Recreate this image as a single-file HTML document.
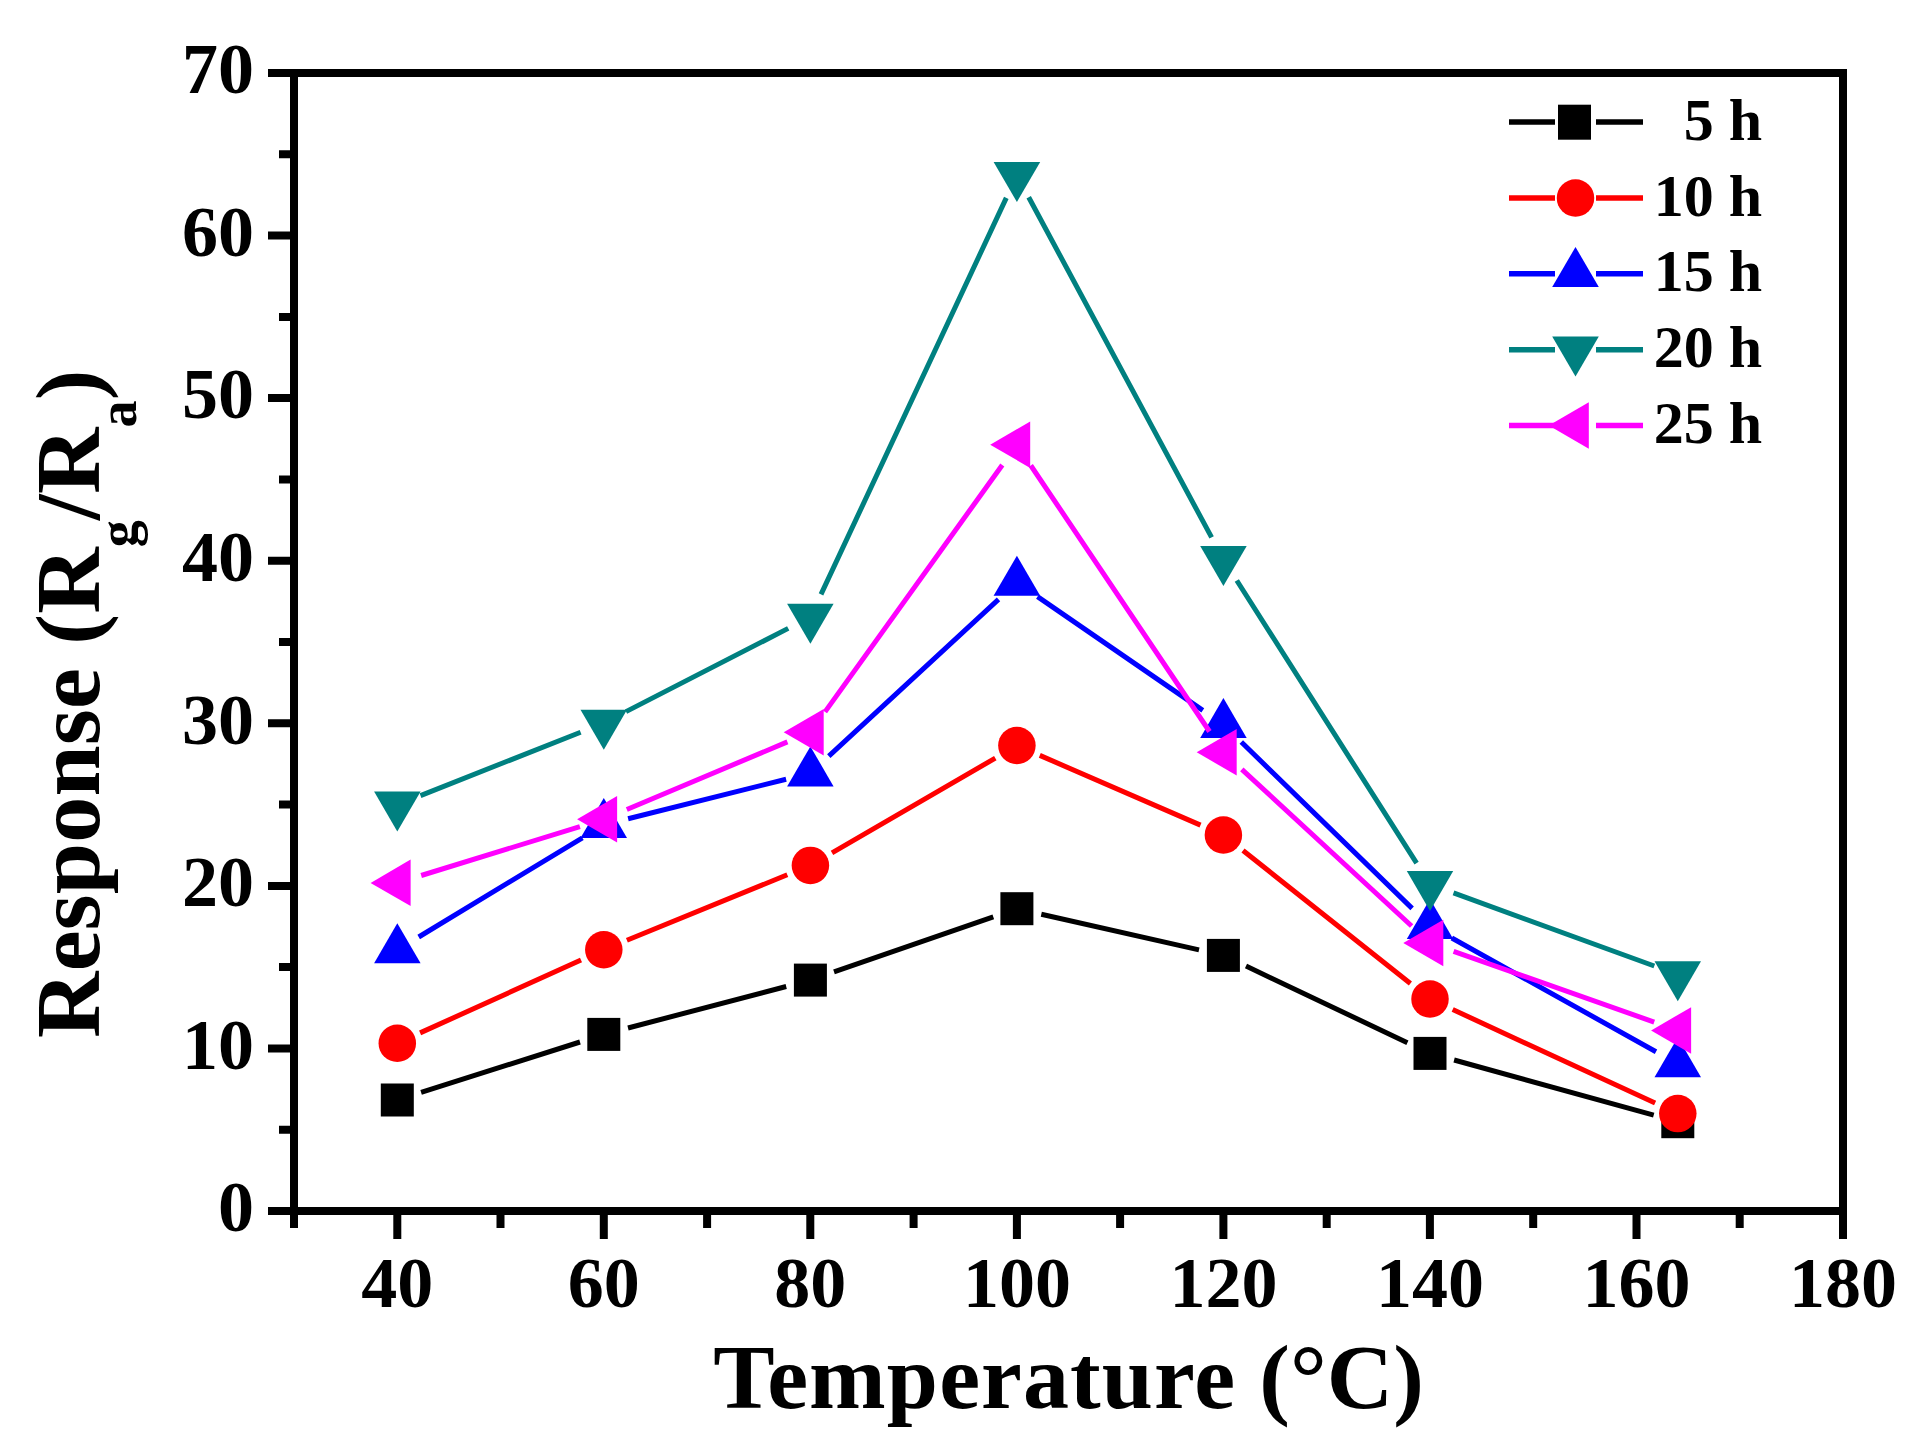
<!DOCTYPE html>
<html><head><meta charset="utf-8"><title>Response vs Temperature</title>
<style>html,body{margin:0;padding:0;background:#fff}body{width:1928px;height:1448px;overflow:hidden}svg{display:block}</style></head>
<body>
<svg width="1928" height="1448" viewBox="0 0 1928 1448">
<rect width="1928" height="1448" fill="#fff"/>
<path d="M421.1 1092.4L580.0 1042.0M628.0 1028.0L786.2 986.5M834.0 971.9L993.3 916.9M1041.3 914.2L1199.0 949.9M1246.0 966.1L1407.4 1042.7M1454.1 1060.0L1653.7 1115.1" stroke="#000000" stroke-width="5.0" fill="none"/>
<rect x="380.8" y="1083.5" width="33.0" height="33.0" fill="#000000"/>
<rect x="587.3" y="1017.9" width="33.0" height="33.0" fill="#000000"/>
<rect x="793.9" y="963.6" width="33.0" height="33.0" fill="#000000"/>
<rect x="1000.4" y="892.2" width="33.0" height="33.0" fill="#000000"/>
<rect x="1206.9" y="938.9" width="33.0" height="33.0" fill="#000000"/>
<rect x="1413.5" y="1036.9" width="33.0" height="33.0" fill="#000000"/>
<rect x="1661.3" y="1105.2" width="33.0" height="33.0" fill="#000000"/>
<path d="M420.1 1032.9L581.0 960.0M626.9 940.3L787.3 874.8M832.0 852.8L995.3 758.1M1039.8 755.4L1200.5 825.1M1243.0 850.5L1410.4 983.5M1452.7 1009.5L1655.1 1103.1" stroke="#ff0000" stroke-width="5.0" fill="none"/>
<circle cx="397.3" cy="1043.2" r="18.75" fill="#ff0000"/>
<circle cx="603.8" cy="949.7" r="18.75" fill="#ff0000"/>
<circle cx="810.4" cy="865.4" r="18.75" fill="#ff0000"/>
<circle cx="1016.9" cy="745.5" r="18.75" fill="#ff0000"/>
<circle cx="1223.4" cy="835.0" r="18.75" fill="#ff0000"/>
<circle cx="1430.0" cy="999.0" r="18.75" fill="#ff0000"/>
<circle cx="1677.8" cy="1113.6" r="18.75" fill="#ff0000"/>
<path d="M418.7 937.0L582.4 837.8M628.1 818.7L786.1 779.2M828.8 756.1L998.5 599.4M1037.5 596.6L1202.8 710.4M1241.3 742.0L1412.1 908.4M1451.8 938.0L1656.0 1051.7" stroke="#0000ff" stroke-width="5.0" fill="none"/>
<polygon points="397.3,923.3 374.1,963.3 420.6,963.3" fill="#0000ff"/>
<polygon points="603.8,798.1 580.5,838.1 627.0,838.1" fill="#0000ff"/>
<polygon points="810.4,746.4 787.1,786.4 833.6,786.4" fill="#0000ff"/>
<polygon points="1016.9,555.7 993.6,595.7 1040.2,595.7" fill="#0000ff"/>
<polygon points="1223.4,697.9 1200.2,737.9 1246.7,737.9" fill="#0000ff"/>
<polygon points="1430.0,899.1 1406.8,939.1 1453.2,939.1" fill="#0000ff"/>
<polygon points="1677.8,1037.2 1654.5,1077.2 1701.0,1077.2" fill="#0000ff"/>
<path d="M420.5 795.6L580.6 732.2M626.0 711.6L788.2 628.4M821.0 594.4L1006.3 197.9M1028.7 197.3L1211.6 537.4M1236.8 580.5L1416.6 863.2M1453.5 892.9L1654.3 966.0" stroke="#008080" stroke-width="5.0" fill="none"/>
<polygon points="397.3,831.5 374.1,791.5 420.6,791.5" fill="#008080"/>
<polygon points="603.8,749.7 580.5,709.7 627.0,709.7" fill="#008080"/>
<polygon points="810.4,643.7 787.1,603.7 833.6,603.7" fill="#008080"/>
<polygon points="1016.9,202.0 993.6,162.0 1040.2,162.0" fill="#008080"/>
<polygon points="1223.4,586.1 1200.2,546.1 1246.7,546.1" fill="#008080"/>
<polygon points="1430.0,911.0 1406.8,871.0 1453.2,871.0" fill="#008080"/>
<polygon points="1677.8,1001.3 1654.5,961.3 1701.0,961.3" fill="#008080"/>
<path d="M421.2 875.5L579.9 826.6M626.8 809.5L787.4 741.9M825.0 711.9L1002.3 465.0M1030.8 465.5L1209.5 731.5M1241.8 769.3L1411.6 926.0M1453.6 951.3L1654.2 1022.1" stroke="#ff00ff" stroke-width="5.0" fill="none"/>
<polygon points="370.6,882.9 410.6,859.6 410.6,906.1" fill="#ff00ff"/>
<polygon points="577.1,819.2 617.1,796.0 617.1,842.5" fill="#ff00ff"/>
<polygon points="783.7,732.2 823.7,709.0 823.7,755.5" fill="#ff00ff"/>
<polygon points="990.2,444.7 1030.2,421.4 1030.2,467.9" fill="#ff00ff"/>
<polygon points="1196.7,752.3 1236.7,729.0 1236.7,775.5" fill="#ff00ff"/>
<polygon points="1403.3,943.0 1443.3,919.8 1443.3,966.2" fill="#ff00ff"/>
<polygon points="1651.1,1030.4 1691.1,1007.2 1691.1,1053.7" fill="#ff00ff"/>
<g stroke="#000" stroke-width="8" fill="none" stroke-linecap="butt">
<rect x="294.0" y="73.0" width="1549.0" height="1138.0"/>
<path d="M268 1211.0H294.0M279 1129.7H294.0M268 1048.4H294.0M279 967.1H294.0M268 885.9H294.0M279 804.6H294.0M268 723.3H294.0M279 642.0H294.0M268 560.7H294.0M279 479.4H294.0M268 398.1H294.0M279 316.9H294.0M268 235.6H294.0M279 154.3H294.0M268 73.0H294.0M294.0 1211.0V1228M397.3 1211.0V1239M500.5 1211.0V1228M603.8 1211.0V1239M707.1 1211.0V1228M810.3 1211.0V1239M913.6 1211.0V1228M1016.9 1211.0V1239M1120.1 1211.0V1228M1223.4 1211.0V1239M1326.7 1211.0V1228M1429.9 1211.0V1239M1533.2 1211.0V1228M1636.5 1211.0V1239M1739.7 1211.0V1228M1843.0 1211.0V1239"/>
</g>
<g font-family="'Liberation Serif', serif" font-weight="bold" fill="#000">
<g font-size="72" text-anchor="end">
<text x="254" y="1231.3">0</text>
<text x="254" y="1068.7">10</text>
<text x="254" y="906.2">20</text>
<text x="254" y="743.6">30</text>
<text x="254" y="581.0">40</text>
<text x="254" y="418.4">50</text>
<text x="254" y="255.9">60</text>
<text x="254" y="93.3">70</text>
</g>
<g font-size="72" text-anchor="middle">
<text x="397.3" y="1307">40</text>
<text x="603.8" y="1307">60</text>
<text x="810.3" y="1307">80</text>
<text x="1016.9" y="1307">100</text>
<text x="1223.4" y="1307">120</text>
<text x="1429.9" y="1307">140</text>
<text x="1636.5" y="1307">160</text>
<text x="1843.0" y="1307">180</text>
</g>
<text x="1068.5" y="1407.8" font-size="92" text-anchor="middle"><tspan letter-spacing="1.1">Temperature</tspan> (°C)</text>
<text transform="translate(98.5 1038) rotate(-90)" font-size="92" letter-spacing="0.25">Response (R<tspan font-size="54" dy="37">g</tspan><tspan dy="-37">/R</tspan><tspan font-size="54" dy="37">a</tspan><tspan dy="-37">)</tspan></text>
<g font-size="60" text-anchor="end">
<path d="M1509 122H1555M1596 122H1643" stroke="#000000" stroke-width="5.5" fill="none"/>
<rect x="1558" y="104.7" width="33" height="35" fill="#000000"/>
<text x="1762" y="139.5">5 h</text>
<path d="M1509 198H1555M1596 198H1643" stroke="#ff0000" stroke-width="5.5" fill="none"/>
<circle cx="1575.5" cy="198.0" r="18.75" fill="#ff0000"/>
<text x="1762" y="215.5">10 h</text>
<path d="M1509 273.7H1555M1596 273.7H1643" stroke="#0000ff" stroke-width="5.5" fill="none"/>
<polygon points="1575.5,247.0 1552.2,287.0 1598.8,287.0" fill="#0000ff"/>
<text x="1762" y="291.2">15 h</text>
<path d="M1509 349.7H1555M1596 349.7H1643" stroke="#008080" stroke-width="5.5" fill="none"/>
<polygon points="1575.5,376.4 1552.2,336.4 1598.8,336.4" fill="#008080"/>
<text x="1762" y="367.2">20 h</text>
<path d="M1509 425.5H1555M1596 425.5H1643" stroke="#ff00ff" stroke-width="5.5" fill="none"/>
<polygon points="1548.8,425.5 1588.8,402.2 1588.8,448.8" fill="#ff00ff"/>
<text x="1762" y="443.0">25 h</text>
</g>
</g>
</svg>
</body></html>
